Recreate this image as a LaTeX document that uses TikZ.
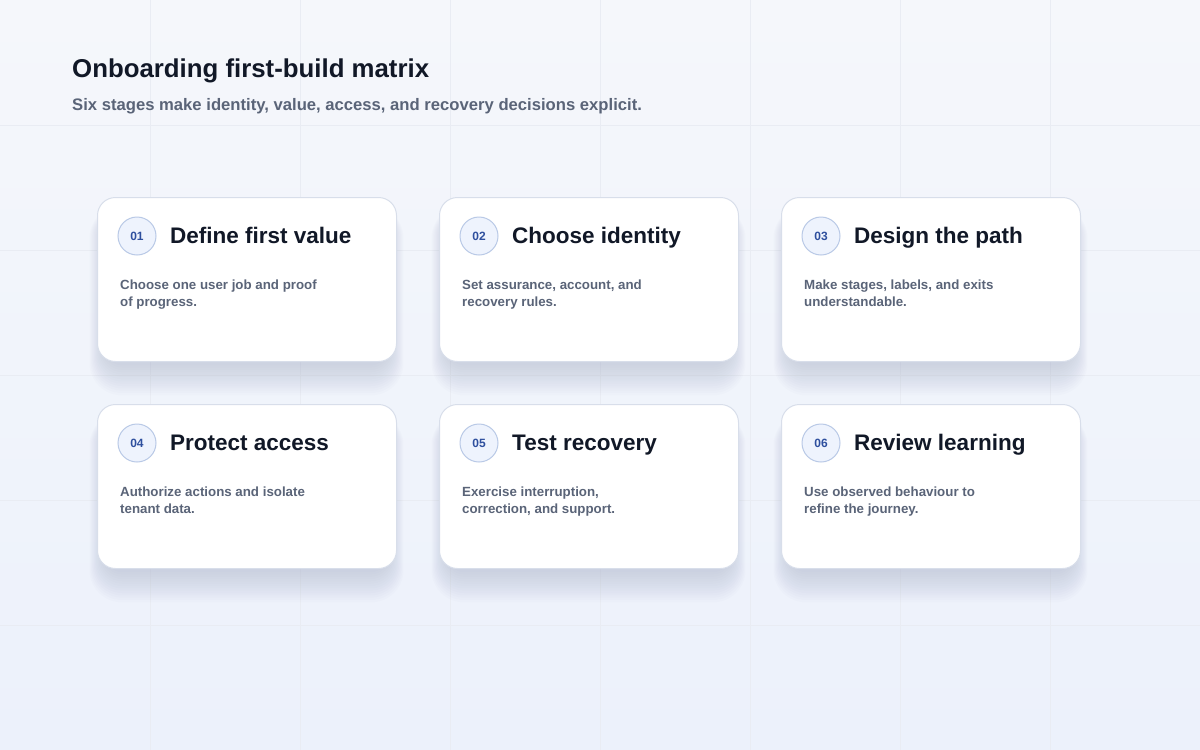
\documentclass[tikz,border=0pt]{standalone}
\usepackage{fontspec}
\setmainfont{Liberation Sans}
\usetikzlibrary{positioning}
\definecolor{bgtop}{HTML}{F5F7FB}
\definecolor{bgbot}{HTML}{ECF1FB}
\definecolor{gridc}{HTML}{E9ECF3}
\definecolor{cardline}{HTML}{D8DEEA}
\definecolor{shadowc}{HTML}{9CA6C4}
\definecolor{ink}{HTML}{111827}
\definecolor{muted}{HTML}{5A6478}
\definecolor{numfill}{HTML}{EEF3FD}
\definecolor{numline}{HTML}{B9C9E6}
\definecolor{numink}{HTML}{2E4F9E}

\begin{document}
\begin{tikzpicture}[x=1pt,y=-1pt,
    card/.style={draw=cardline,line width=1pt,fill=white,rounded corners=18pt,
        minimum width=299pt,minimum height=164pt,inner sep=0pt},
    numcirc/.style={circle,draw=numline,line width=1pt,fill=numfill,
        minimum size=38pt,inner sep=0pt,text=numink,font=\bfseries\fontsize{12}{14}\selectfont},
    cardtitle/.style={anchor=base west,inner sep=0pt,text=ink,
        font=\bfseries\fontsize{22.5}{26}\selectfont},
    cardbody/.style={anchor=north west,inner sep=0pt,align=left,text=muted,
        font=\bfseries\fontsize{13.3}{17}\selectfont}]
\useasboundingbox (0,0) rectangle (1200,750);

% draw the background and grid
\shade[top color=bgtop,bottom color=bgbot] (0,0) rectangle (1200,750);
\foreach \i in {1,...,7} {
    \draw[draw=gridc,line width=0.8pt] (150*\i,0) -- (150*\i,750);
}
\foreach \i in {1,...,5} {
    \draw[draw=gridc,line width=0.8pt] (0,125*\i) -- (1200,125*\i);
}

% heading
\node[anchor=base west,inner sep=0pt,text=ink,font=\bfseries\fontsize{25.8}{30}\selectfont]
    (heading) at (72,77) {Onboarding first-build matrix};
\node[anchor=base west,inner sep=0pt,text=muted,font=\bfseries\fontsize{16.65}{20}\selectfont]
    (subheading) at (72,110) {Six stages make identity, value, access, and recovery decisions explicit.};

% the six stage cards
\foreach \k/\cx/\cy/\ttl/\body in {
    1/97/197/{Define first value}/{Choose one user job and proof\\of progress.},
    2/439/197/{Choose identity}/{Set assurance, account, and\\recovery rules.},
    3/781/197/{Design the path}/{Make stages, labels, and exits\\understandable.},
    4/97/404/{Protect access}/{Authorize actions and isolate\\tenant data.},
    5/439/404/{Test recovery}/{Exercise interruption,\\correction, and support.},
    6/781/404/{Review learning}/{Use observed behaviour to\\refine the journey.}} {
    % soft shadow
    \foreach \s in {1,...,14} {
        \fill[shadowc,opacity=0.032,rounded corners=18pt+\s pt]
            (\cx+8-\s*1.1,\cy+16-\s*0.5) rectangle (\cx+291+\s*1.1,\cy+166+\s*2.3);
    }
    \node[card,anchor=north west] (card\k) at (\cx,\cy) {};
    \node[numcirc] (num\k) at ([xshift=40pt,yshift=-39pt]card\k.north west) {0\k};
    \node[cardtitle] (title\k) at ([xshift=73pt,yshift=-46pt]card\k.north west) {\ttl};
    \node[cardbody] (body\k) at ([xshift=23pt,yshift=-83pt]card\k.north west) {\body};
}

\end{tikzpicture}
\end{document}
